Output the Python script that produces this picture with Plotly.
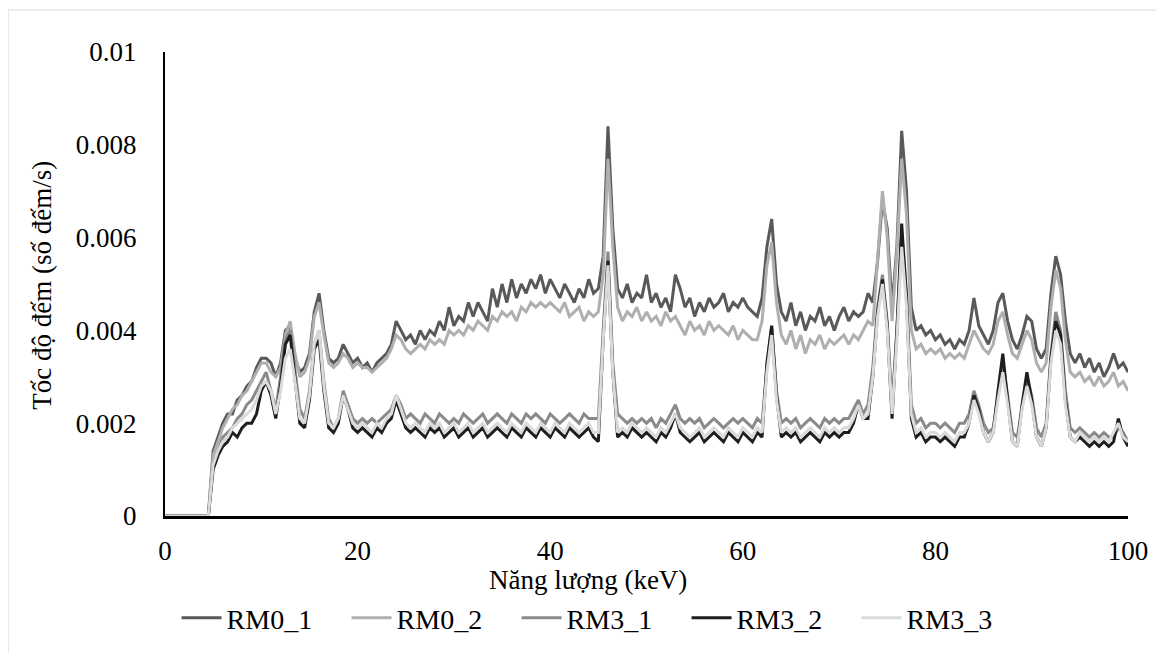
import plotly.graph_objects as go

# energy grid (keV), 0.5 keV steps
energy = [
    0, 0.5, 1, 1.5, 2, 2.5, 3, 3.5, 4, 4.5, 5, 5.5, 6, 6.5, 7, 7.5, 8, 8.5, 9, 9.5,
    10, 10.5, 11, 11.5, 12, 12.5, 13, 13.5, 14, 14.5, 15, 15.5, 16, 16.5, 17, 17.5, 18, 18.5, 19, 19.5,
    20, 20.5, 21, 21.5, 22, 22.5, 23, 23.5, 24, 24.5, 25, 25.5, 26, 26.5, 27, 27.5, 28, 28.5, 29, 29.5,
    30, 30.5, 31, 31.5, 32, 32.5, 33, 33.5, 34, 34.5, 35, 35.5, 36, 36.5, 37, 37.5, 38, 38.5, 39, 39.5,
    40, 40.5, 41, 41.5, 42, 42.5, 43, 43.5, 44, 44.5, 45, 45.5, 46, 46.5, 47, 47.5, 48, 48.5, 49, 49.5,
    50, 50.5, 51, 51.5, 52, 52.5, 53, 53.5, 54, 54.5, 55, 55.5, 56, 56.5, 57, 57.5, 58, 58.5, 59, 59.5,
    60, 60.5, 61, 61.5, 62, 62.5, 63, 63.5, 64, 64.5, 65, 65.5, 66, 66.5, 67, 67.5, 68, 68.5, 69, 69.5,
    70, 70.5, 71, 71.5, 72, 72.5, 73, 73.5, 74, 74.5, 75, 75.5, 76, 76.5, 77, 77.5, 78, 78.5, 79, 79.5,
    80, 80.5, 81, 81.5, 82, 82.5, 83, 83.5, 84, 84.5, 85, 85.5, 86, 86.5, 87, 87.5, 88, 88.5, 89, 89.5,
    90, 90.5, 91, 91.5, 92, 92.5, 93, 93.5, 94, 94.5, 95, 95.5, 96, 96.5, 97, 97.5, 98, 98.5, 99, 99.5,
    100,
]

# count rates, in units of 1e-4 counts/s (one row = 5 keV)
rm0_1 = [
    0, 0, 0, 0, 0, 0, 0, 0, 0, 0,
    14, 17, 20, 22, 22, 25, 26, 28, 29, 32,
    34, 34, 33, 30, 33, 40, 41, 34, 31, 32,
    35, 44, 48, 40, 34, 33, 34, 37, 35, 33,
    34, 32, 33, 31, 33, 34, 35, 37, 42, 40,
    38, 39, 37, 40, 38, 40, 39, 42, 40, 45,
    41, 43, 42, 46, 43, 46, 44, 42, 49, 45,
    50, 46, 51, 47, 50, 48, 51, 49, 52, 48,
    51, 49, 47, 50, 48, 46, 49, 47, 51, 48,
    49, 56, 84, 62, 49, 47, 50, 46, 48, 47,
    52, 46, 48, 45, 47, 44, 52, 49, 45, 47,
    43, 46, 44, 47, 45, 46, 48, 44, 46, 45,
    47, 45, 44, 43, 47, 58, 64, 50, 44, 42,
    46, 41, 44, 40, 43, 42, 45, 41, 43, 40,
    43, 45, 42, 44, 43, 44, 48, 46, 55, 68,
    62, 45, 58, 83, 70, 45, 40, 41, 39, 40,
    38, 39, 37, 38, 36, 38, 37, 40, 47, 41,
    39, 37, 40, 46, 48, 42, 38, 36, 39, 43,
    42, 36, 34, 36, 48, 56, 52, 42, 35, 33,
    35, 32, 34, 31, 33, 30, 32, 35, 32, 33,
    31,
]
rm0_2 = [
    0, 0, 0, 0, 0, 0, 0, 0, 0, 0,
    13, 16, 19, 21, 23, 24, 26, 27, 29, 31,
    33, 33, 31, 30, 32, 39, 42, 35, 30, 31,
    34, 43, 46, 39, 33, 32, 33, 35, 34, 32,
    33, 32, 32, 31, 32, 33, 34, 36, 39, 38,
    36, 35, 36, 37, 36, 38, 37, 38, 37, 40,
    39, 40, 39, 41, 40, 42, 41, 40, 43, 42,
    44, 43, 44, 42, 45, 44, 46, 45, 46, 45,
    46, 45, 44, 46, 43, 44, 45, 42, 44, 43,
    44, 52, 77, 58, 45, 42, 44, 43, 45, 42,
    44, 42, 43, 41, 44, 42, 43, 41, 39, 42,
    40, 41, 39, 42, 40, 41, 40, 39, 41, 38,
    40, 39, 38, 38, 42, 54, 59, 46, 39, 37,
    40, 36, 39, 35, 38, 37, 39, 36, 38, 37,
    38, 39, 37, 39, 38, 40, 42, 41, 55, 70,
    60, 42, 57, 77, 65, 40, 36, 37, 35, 36,
    35, 36, 34, 35, 34, 35, 34, 37, 40, 38,
    36, 35, 37, 42, 44, 39, 35, 34, 37, 40,
    38, 33, 31, 33, 45, 53, 49, 38, 31, 30,
    31, 29, 30, 28, 30, 28, 29, 31, 28, 29,
    27,
]
rm3_1 = [
    0, 0, 0, 0, 0, 0, 0, 0, 0, 0,
    11, 14, 17, 18, 19, 21, 22, 24, 25, 27,
    29, 31, 27, 23, 30, 38, 40, 31, 23, 21,
    27, 37, 40, 29, 21, 19, 21, 27, 24, 21,
    20, 21, 20, 21, 20, 21, 22, 23, 26, 24,
    21, 22, 21, 20, 22, 21, 20, 22, 21, 20,
    21, 20, 22, 21, 20, 21, 22, 20, 21, 22,
    21, 20, 22, 21, 20, 22, 21, 22, 21, 20,
    22, 21, 20, 21, 22, 21, 20, 22, 21, 21,
    21, 40, 57, 33, 22, 21, 20, 21, 20, 21,
    20, 21, 19, 21, 20, 22, 24, 21, 20, 21,
    20, 21, 19, 20, 21, 20, 19, 20, 21, 20,
    21, 20, 19, 21, 20, 32, 41, 27, 20, 21,
    20, 21, 19, 20, 21, 20, 19, 21, 20, 21,
    20, 21, 21, 23, 25, 22, 24, 32, 45, 52,
    42, 24, 40, 61, 48, 24, 20, 21, 19, 20,
    20, 19, 20, 19, 18, 20, 20, 22, 27, 24,
    20, 18, 19, 26, 33, 26, 18, 17, 24, 30,
    26, 19, 17, 20, 35, 44, 40, 27, 19, 18,
    19, 18, 17, 18, 17, 18, 17, 17, 19, 18,
    16,
]
rm3_2 = [
    0, 0, 0, 0, 0, 0, 0, 0, 0, 0,
    10, 13, 15, 16, 18, 17, 19, 20, 20, 22,
    27, 29, 26, 21, 28, 37, 39, 29, 20, 19,
    25, 36, 38, 27, 19, 18, 20, 26, 23, 19,
    18, 19, 18, 17, 19, 18, 20, 21, 25, 22,
    19, 18, 19, 18, 17, 19, 18, 19, 17, 18,
    19, 17, 18, 19, 17, 18, 19, 17, 18, 19,
    18, 17, 19, 18, 17, 19, 18, 17, 19, 18,
    17, 19, 18, 17, 19, 18, 17, 18, 19, 17,
    16, 38, 55, 31, 17, 18, 17, 19, 18, 17,
    18, 17, 16, 18, 17, 19, 22, 18, 17, 16,
    17, 18, 16, 17, 18, 17, 16, 18, 17, 16,
    18, 17, 16, 18, 17, 33, 41, 26, 17, 18,
    17, 18, 16, 17, 18, 17, 16, 18, 17, 18,
    17, 18, 18, 20, 24, 21, 21, 30, 44, 51,
    41, 21, 40, 63, 47, 21, 17, 18, 16, 17,
    17, 16, 17, 16, 15, 17, 17, 20, 26, 23,
    18, 16, 18, 27, 35, 25, 16, 15, 24, 31,
    25, 17, 15, 19, 34, 42, 39, 25, 17, 16,
    17, 16, 15, 16, 15, 16, 15, 16, 21, 17,
    15,
]
rm3_3 = [
    0, 0, 0, 0, 0, 0, 0, 0, 0, 0,
    11, 14, 16, 17, 19, 20, 21, 22, 23, 25,
    28, 29, 27, 22, 27, 34, 36, 29, 21, 20,
    26, 37, 40, 28, 20, 19, 21, 26, 23, 20,
    19, 20, 19, 18, 20, 19, 21, 22, 26, 23,
    20, 19, 20, 19, 18, 20, 19, 20, 18, 19,
    20, 18, 19, 20, 18, 19, 20, 18, 19, 20,
    19, 18, 20, 19, 18, 20, 19, 18, 20, 19,
    18, 20, 19, 18, 20, 19, 18, 19, 20, 18,
    18, 38, 54, 31, 18, 19, 18, 20, 19, 18,
    19, 18, 17, 19, 18, 20, 22, 19, 18, 17,
    18, 19, 17, 18, 19, 18, 17, 19, 18, 17,
    19, 18, 17, 19, 18, 31, 39, 25, 18, 19,
    18, 19, 17, 18, 19, 18, 17, 19, 18, 19,
    18, 19, 19, 21, 24, 21, 22, 30, 43, 50,
    40, 22, 38, 58, 45, 22, 18, 19, 17, 18,
    18, 17, 18, 17, 16, 18, 18, 20, 25, 22,
    18, 16, 18, 25, 31, 24, 16, 15, 23, 28,
    24, 17, 15, 19, 33, 40, 37, 24, 17, 16,
    18, 17, 16, 17, 16, 17, 16, 18, 20, 17,
    16,
]

series_names = ["RM0_1", "RM0_2", "RM3_1", "RM3_2", "RM3_3"]
series_vals = [rm0_1, rm0_2, rm3_1, rm3_2, rm3_3]
series_colors = ["#595959", "#afafaf", "#8a8a8a", "#1e1e1e", "#dadada"]

y_ticks = [0, 0.002, 0.004, 0.006, 0.008, 0.01]
y_ticktext = ["0", "0.002", "0.004", "0.006", "0.008", "0.01"]
x_ticks = [0, 20, 40, 60, 80, 100]

FONT = "Liberation Serif"

fig = go.Figure()
for name, vals, col in zip(series_names, series_vals, series_colors):
    fig.add_trace(go.Scatter(
        x=energy, y=[v * 1e-4 for v in vals], name=name, mode="lines",
        line=dict(color=col, width=3),
    ))

# the page body adds an 8px offset, so margins are shifted by that amount
fig.update_layout(
    width=1164, height=653,
    paper_bgcolor="white", plot_bgcolor="white",
    margin=dict(l=157, r=44, t=44, b=145),
    font=dict(family=FONT, size=27, color="#000000"),
    showlegend=True,
    legend=dict(
        orientation="h", x=0.012, y=-0.166, xanchor="left", yanchor="top",
        font=dict(family=FONT, size=28, color="#000000"), entrywidth=115,
        entrywidthmode="pixels", itemwidth=40, bgcolor="rgba(0,0,0,0)",
    ),
    xaxis=dict(
        range=[0, 100], tickvals=x_ticks, showgrid=False, zeroline=False,
        showline=True, linecolor="#000000", linewidth=2.5, layer="below traces",
        ticks="outside", ticklen=9, tickcolor="rgba(0,0,0,0)",
        tickfont=dict(family=FONT, size=27, color="#000000"), automargin=False,
    ),
    yaxis=dict(
        range=[0, 0.01], tickvals=y_ticks, ticktext=y_ticktext, showgrid=False,
        zeroline=False, showline=True, linecolor="#000000", linewidth=2,
        layer="below traces", ticks="outside", ticklen=21,
        tickcolor="rgba(0,0,0,0)", tickfont=dict(family=FONT, size=27, color="#000000"),
        automargin=False,
    ),
    shapes=[dict(
        type="rect", xref="paper", yref="paper",
        x0=-0.163, x1=1.05, y0=-0.32, y1=1.0905,
        line=dict(color="#d9d9d9", width=1), fillcolor="rgba(0,0,0,0)",
        layer="below",
    )],
    annotations=[
        dict(text="Năng lượng (keV)", xref="paper", yref="paper",
             x=0.439, y=-0.138, xanchor="center", yanchor="middle",
             showarrow=False, font=dict(family=FONT, size=27, color="#000000")),
        dict(text="Tốc độ đếm (số đếm/s)", xref="paper", yref="paper",
             x=-0.128, y=0.498, xanchor="center", yanchor="middle",
             textangle=-90, showarrow=False,
             font=dict(family=FONT, size=27, color="#000000")),
    ],
)

fig.write_html("out.html")
